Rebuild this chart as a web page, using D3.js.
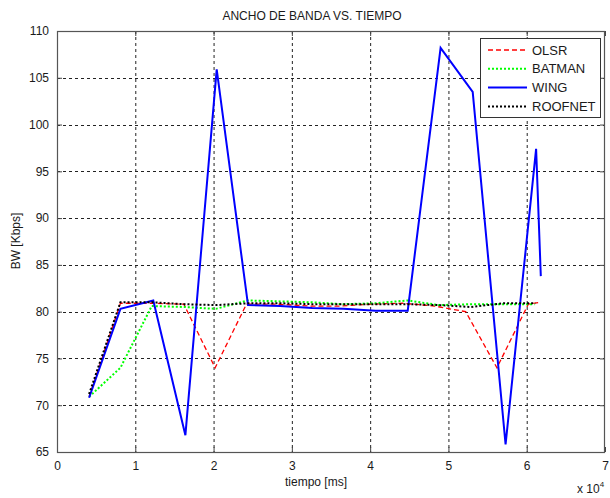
<!DOCTYPE html>
<html>
<head>
<meta charset="utf-8">
<script src="https://cdn.jsdelivr.net/npm/d3@7"></script>
<style>
  html, body { margin: 0; padding: 0; background: #fff; }
  svg { display: block; }
  text { font-family: "Liberation Sans", Arial, sans-serif; fill: #1a1a1a; }
</style>
</head>
<body>
<svg id="chart" width="610" height="498"></svg>
<script>
// Bandwidth samples per protocol (time in ms, bandwidth in Kbps)
const tOLSR   = [4100, 8100, 12100, 16200, 20200, 24200, 28200, 32200, 36200, 40200, 44200, 48200, 52200, 56200, 60200, 61800];
const bwOLSR  = [70.9, 80.9, 80.9, 80.8, 74.0, 80.8, 80.8, 80.6, 80.6, 80.8, 80.9, 80.6, 80.0, 74.0, 80.8, 81.0];

const tBATMAN  = [4100, 8100, 12100, 16200, 20300, 24400, 28500, 32600, 36600, 40700, 44800, 48800, 52900, 57000, 61000];
const bwBATMAN = [70.9, 74.0, 80.6, 80.5, 80.3, 81.2, 81.1, 81.0, 80.8, 80.9, 81.2, 80.7, 80.8, 80.8, 80.8];

const tWING  = [4100, 8100, 12300, 16400, 20400, 24400, 28500, 32600, 36600, 40700, 44800, 49000, 53100, 57300, 61200, 61800];
const bwWING = [70.8, 80.3, 81.2, 66.8, 105.9, 80.7, 80.6, 80.4, 80.3, 80.1, 80.1, 108.2, 103.5, 65.8, 97.4, 83.8];

const tROOFNET  = [4100, 8100, 12200, 16300, 20300, 24400, 28500, 32600, 36600, 40700, 44800, 48800, 52900, 57000, 61100];
const bwROOFNET = [71.2, 81.0, 81.0, 80.8, 80.7, 80.9, 80.9, 80.8, 80.8, 80.8, 80.8, 80.7, 80.5, 80.9, 80.9];

const seriesNames = ["OLSR", "BATMAN", "WING", "ROOFNET"];
const xTicks = [0, 10000, 20000, 30000, 40000, 50000, 60000, 70000];
const yTicks = [65, 70, 75, 80, 85, 90, 95, 100, 105, 110];

const styles = {
  OLSR:    { color: "#ff0000", width: 1.3, dash: "5,3",  legendWidth: 1.6 },
  BATMAN:  { color: "#00ff00", width: 2,   dash: "2,2",  legendWidth: 2 },
  WING:    { color: "#0000ff", width: 2,   dash: null,   legendWidth: 2 },
  ROOFNET: { color: "#000000", width: 2,   dash: "2,2",  legendWidth: 2 }
};

const series = [
  { name: "OLSR",    t: tOLSR,    v: bwOLSR },
  { name: "BATMAN",  t: tBATMAN,  v: bwBATMAN },
  { name: "WING",    t: tWING,    v: bwWING },
  { name: "ROOFNET", t: tROOFNET, v: bwROOFNET }
];

const svg = d3.select("#chart");
const m = { left: 57, right: 605, top: 31, bottom: 452 };

const x = d3.scaleLinear().domain([0, 70000]).range([m.left, m.right]);
const y = d3.scaleLinear().domain([65, 110]).range([m.bottom, m.top]);

// Dotted grid
const grid = svg.append("g");
grid.selectAll("line.gx").data(xTicks.slice(1, -1)).join("line")
  .attr("x1", d => x(d) + 0.5).attr("x2", d => x(d) + 0.5)
  .attr("y1", m.top).attr("y2", m.bottom)
  .attr("stroke", "#222").attr("stroke-width", 1).attr("stroke-dasharray", "3,3");
grid.selectAll("line.gy").data(yTicks.slice(1, -1)).join("line")
  .attr("y1", d => Math.round(y(d)) + 0.5).attr("y2", d => Math.round(y(d)) + 0.5)
  .attr("x1", m.left).attr("x2", m.right)
  .attr("stroke", "#222").attr("stroke-width", 1).attr("stroke-dasharray", "3,3");

// Axes (ticks inside, labels outside)
const xAxis = d3.axisBottom(x).tickValues(xTicks).tickFormat(d => d / 10000).tickSizeInner(-5).tickSizeOuter(0).tickPadding(9);
const yAxis = d3.axisLeft(y).tickValues(yTicks).tickFormat(d3.format("d")).tickSizeInner(-5).tickSizeOuter(0).tickPadding(8);

const gx = svg.append("g").attr("transform", `translate(0,${m.bottom})`).call(xAxis);
const gy = svg.append("g").attr("transform", `translate(${m.left},0)`).call(yAxis);
[gx, gy].forEach(g => {
  g.select(".domain").remove();
  g.selectAll(".tick line").attr("stroke", "#444");
  g.selectAll(".tick text").attr("font-size", 12).attr("fill", "#1a1a1a")
    .style("font-family", "'Liberation Sans', Arial, sans-serif");
});

// Opposite-side ticks
svg.append("g").attr("transform", `translate(0,${m.top})`)
  .call(d3.axisTop(x).tickValues(xTicks).tickFormat("").tickSizeInner(-5).tickSizeOuter(0))
  .call(g => { g.select(".domain").remove(); g.selectAll("line").attr("stroke", "#444"); });
svg.append("g").attr("transform", `translate(${m.right},0)`)
  .call(d3.axisRight(y).tickValues(yTicks).tickFormat("").tickSizeInner(-5).tickSizeOuter(0))
  .call(g => { g.select(".domain").remove(); g.selectAll("line").attr("stroke", "#444"); });

// Series lines
const line = d3.line().x(d => x(d[0])).y(d => y(d[1]));
series.forEach(s => {
  const st = styles[s.name];
  svg.append("path")
    .datum(s.t.map((t, i) => [t, s.v[i]]))
    .attr("d", line)
    .attr("fill", "none")
    .attr("stroke", st.color)
    .attr("stroke-width", st.width)
    .attr("stroke-linejoin", "miter")
    .attr("stroke-dasharray", st.dash);
});

// Plot frame
svg.append("rect")
  .attr("x", m.left + 0.5).attr("y", m.top + 0.5)
  .attr("width", m.right - m.left - 1).attr("height", m.bottom - m.top)
  .attr("fill", "none").attr("stroke", "#555").attr("stroke-width", 1.2);

// Legend
const lg = svg.append("g");
lg.append("rect").attr("x", 480.5).attr("y", 38.5).attr("width", 120).attr("height", 79)
  .attr("fill", "#fff").attr("stroke", "#333").attr("stroke-width", 1);
seriesNames.forEach((name, i) => {
  const st = styles[name];
  const yy = 50 + i * 18.8;
  lg.append("line").attr("x1", 488).attr("x2", 527).attr("y1", yy).attr("y2", yy)
    .attr("stroke", st.color).attr("stroke-width", st.legendWidth).attr("stroke-dasharray", st.dash);
  lg.append("text").attr("x", 532).attr("y", yy).attr("dy", "0.35em")
    .attr("font-size", 13).text(name);
});

// Titles
svg.append("text").attr("x", 312).attr("y", 20).attr("text-anchor", "middle")
  .attr("font-size", 12).text("ANCHO DE BANDA VS. TIEMPO");
svg.append("text").attr("x", 316).attr("y", 486).attr("text-anchor", "middle")
  .attr("font-size", 12).text("tiempo [ms]");
svg.append("text").attr("transform", "translate(20,241) rotate(-90)").attr("text-anchor", "middle")
  .attr("font-size", 12).text("BW [Kbps]");
const exp = svg.append("text").attr("x", 577).attr("y", 493).attr("font-size", 12);
exp.append("tspan").text("x 10");
exp.append("tspan").attr("dy", -6).attr("font-size", 8).text("4");
</script>
</body>
</html>
